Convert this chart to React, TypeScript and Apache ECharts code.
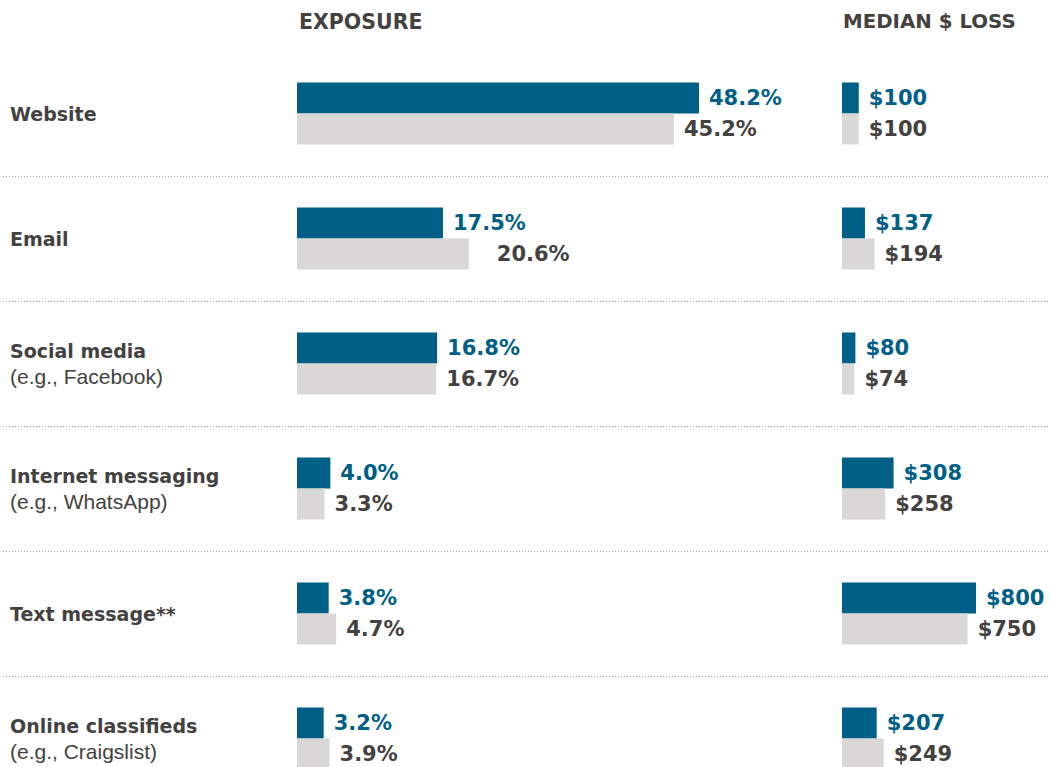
import React, { useEffect, useRef } from "react";
import * as echarts from "echarts";

const categories = ["Website", "Email", "Social media", "Internet messaging", "Text message**", "Online classifieds"];
const notes = ["", "", "(e.g., Facebook)", "(e.g., WhatsApp)", "", "(e.g., Craigslist)"];
const exposureA = [48.2, 17.5, 16.8, 4.0, 3.8, 3.2];
const exposureB = [45.2, 20.6, 16.7, 3.3, 4.7, 3.9];
const lossA = [100, 137, 80, 308, 800, 207];
const lossB = [100, 194, 74, 258, 750, 249];
const headers = ["EXPOSURE", "MEDIAN $ LOSS"];

const BLUE = "#005f87";
const GRAY = "#d9d8d7";
const DARK = "#444240";
const VALUE_FONT = "'DejaVu Sans', sans-serif";

export default function App() {
  const ref = useRef<HTMLDivElement>(null);
  useEffect(() => {
    if (!ref.current) return;
    const chart = echarts.init(ref.current, null, { renderer: "svg" });
    const gridTop = 51;
    const gridHeight = 750;
    const valueLabel = (color: string, fmt: (v: number) => string) => ({
      show: true,
      position: "right" as const,
      distance: 10,
      color,
      fontFamily: VALUE_FONT,
      fontWeight: "bold" as const,
      fontSize: 21,
      formatter: (p: any) => fmt(p.value),
    });
    const pct = (v: number) => v.toFixed(1) + "%";
    const usd = (v: number) => "$" + v;
    const catAxisBase = {
      type: "category" as const,
      data: categories,
      inverse: true,
      axisLine: { show: false },
      axisTick: { show: false },
    };
    chart.setOption({
      animation: false,
      backgroundColor: "#ffffff",
      grid: [
        { left: 3, width: 1047, top: gridTop, height: gridHeight },
        { left: 297, width: 417, top: gridTop, height: gridHeight },
        { left: 842, width: 167.5, top: gridTop, height: gridHeight },
      ],
      xAxis: [
        { gridIndex: 0, type: "value", min: 0, max: 1, show: false },
        { gridIndex: 1, type: "value", min: 0, max: 50, show: false },
        { gridIndex: 2, type: "value", min: 0, max: 1000, show: false },
      ],
      yAxis: [
        {
          ...catAxisBase,
          gridIndex: 0,
          axisLabel: { show: false },
          splitLine: {
            show: true,
            interval: (index: number) => index > 0,
            lineStyle: { color: "#a0a0a0", type: [1, 2], width: 1 },
          },
        },
        {
          ...catAxisBase,
          gridIndex: 1,
          splitLine: { show: false },
          axisLabel: {
            show: true,
            align: "left",
            margin: 287,
            formatter: (value: string, index: number) =>
              notes[index] ? `{b|${value}}\n{r|${notes[index]}}` : `{b|${value}}`,
            rich: {
              b: { fontFamily: VALUE_FONT, fontWeight: "bold", fontSize: 19, color: DARK, lineHeight: 25 },
              r: { fontFamily: "'Liberation Sans', Arial, sans-serif", fontSize: 21, color: DARK, lineHeight: 25 },
            },
          },
        },
        { ...catAxisBase, gridIndex: 2, axisLabel: { show: false }, splitLine: { show: false } },
      ],
      graphic: [
        {
          type: "text",
          left: 299,
          top: 11,
          style: { text: headers[0], fill: DARK, font: `bold 20.5px ${VALUE_FONT}` },
        },
        {
          type: "text",
          left: 843,
          top: 11,
          style: { text: headers[1], fill: DARK, font: `bold 19.8px ${VALUE_FONT}` },
        },
      ],
      series: [
        {
          type: "bar",
          xAxisIndex: 1,
          yAxisIndex: 1,
          barWidth: 31,
          barGap: "0%",
          itemStyle: { color: BLUE },
          label: valueLabel(BLUE, pct),
          data: exposureA,
        },
        {
          type: "bar",
          xAxisIndex: 1,
          yAxisIndex: 1,
          barWidth: 31,
          barGap: "0%",
          itemStyle: { color: GRAY },
          label: valueLabel(DARK, pct),
          data: exposureB.map((v, i) => (i === 1 ? { value: v, label: { distance: 28 } } : v)),
        },
        {
          type: "bar",
          xAxisIndex: 2,
          yAxisIndex: 2,
          barWidth: 31,
          barGap: "0%",
          itemStyle: { color: BLUE },
          label: valueLabel(BLUE, usd),
          data: lossA,
        },
        {
          type: "bar",
          xAxisIndex: 2,
          yAxisIndex: 2,
          barWidth: 31,
          barGap: "0%",
          itemStyle: { color: GRAY },
          label: valueLabel(DARK, usd),
          data: lossB,
        },
      ],
    });
    return () => chart.dispose();
  }, []);
  return (
    <div
      ref={ref}
      style={{ position: "fixed", left: 0, top: 0, width: 1050, height: 810, background: "#fff" }}
    />
  );
}
